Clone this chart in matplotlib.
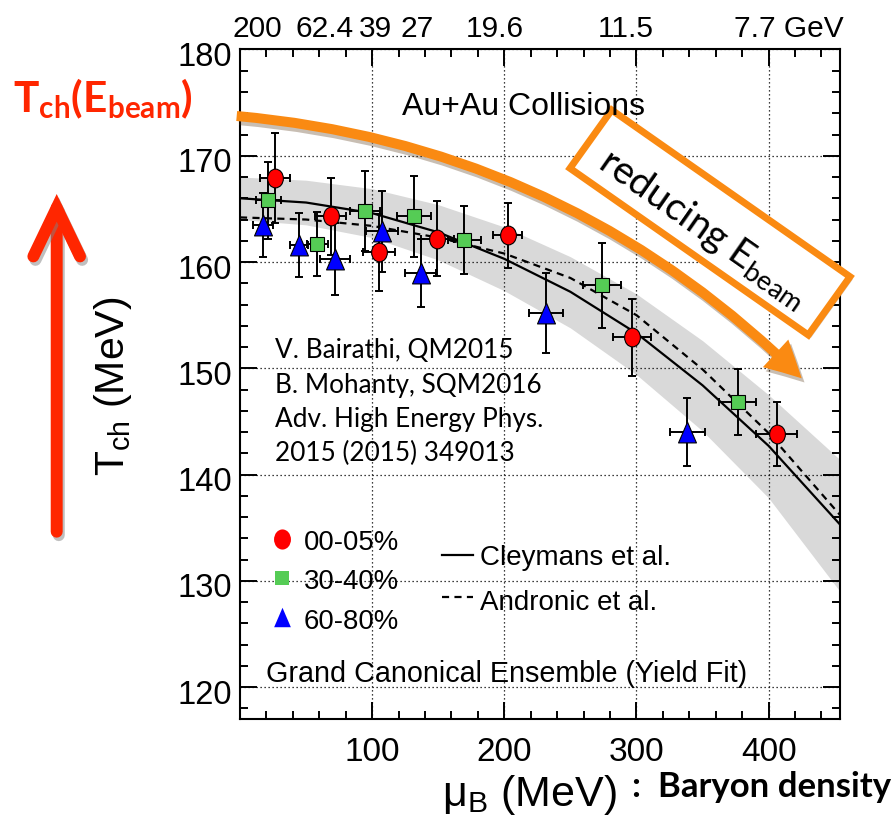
import numpy as np
import matplotlib
matplotlib.use('Agg')
import matplotlib.pyplot as plt
from matplotlib.patches import FancyArrowPatch, Polygon
from matplotlib.path import Path
from matplotlib.lines import Line2D
from matplotlib.ticker import MultipleLocator
from matplotlib.transforms import ScaledTranslation, blended_transform_factory
import matplotlib.patheffects as pe

plt.rcParams['font.family'] = 'Liberation Sans'

# ---- data ----
mu_0005 = [26.5, 68.6, 105.2, 149.3, 202.6, 296.8, 406.1]
T_0005 = [167.9, 164.3, 160.9, 162.2, 162.5, 152.9, 143.8]
dT_0005 = [4.2, 3.6, 3.6, 3.5, 3.1, 3.6, 3.0]
dmu_0005 = [11.6, 11.6, 12.0, 12.6, 11.0, 14.5, 15.4]

mu_3040 = [21.4, 58.5, 94.6, 131.9, 169.7, 273.7, 376.6]
T_3040 = [165.8, 161.7, 164.8, 164.3, 162.1, 157.8, 146.8]
dT_3040 = [3.6, 3.0, 3.8, 3.8, 3.2, 4.0, 3.1]
dmu_3040 = [9.5, 8.0, 11.0, 13.0, 12.6, 14.4, 14.1]

mu_6080 = [17.2, 44.6, 71.9, 107.7, 136.7, 231.3, 338.5]
T_6080 = [163.5, 161.6, 160.3, 162.9, 159.0, 155.2, 144.0]
dT_6080 = [3.0, 3.0, 3.4, 3.8, 3.2, 3.8, 3.2]
dmu_6080 = [7.6, 7.0, 11.0, 12.0, 11.7, 12.9, 13.1]

curve_mu = [0, 50, 100, 150, 200, 250, 300, 350, 400, 454]
cleymans_T = [166.0, 165.6, 164.6, 162.8, 160.3, 157.2, 153.3, 148.4, 142.7, 135.3]
andronic_T = [164.2, 164.0, 163.4, 162.3, 160.8, 158.5, 155.0, 149.9, 143.9, 136.2]
band_hi = [168.0, 167.7, 166.9, 165.4, 163.3, 160.5, 157.0, 152.6, 147.5, 141.4]
band_lo = [164.0, 163.5, 162.3, 160.2, 157.3, 153.8, 149.4, 144.1, 137.8, 129.0]

energy_labels = ['200', '62.4', '39', '27', '19.6', '11.5', '7.7 GeV']
energy_mu = [13.2, 64.1, 102.3, 134.2, 193.1, 291.8, 415.6]

W, H = 894, 830
def fx(x):
    return x / W
def fy(y):
    return 1 - y / H

ORANGE = '#FA8A12'
RED = '#FF2600'

fig = plt.figure(figsize=(W / 100, H / 100), dpi=100)
ax = fig.add_axes([fx(240), fy(719), 600 / W, 669.5 / H])
ax.set_xlim(0, 454)
ax.set_ylim(117, 180)

# grey band + model curves
ax.fill_between(curve_mu, band_lo, band_hi, color='#d9d9d9', lw=0, zorder=1)
ax.plot(curve_mu, cleymans_T, color='black', lw=1.6, zorder=2)
ax.plot(curve_mu, andronic_T, color='black', lw=1.6, ls=(0, (3.2, 2.4)), zorder=2)

# marker shapes (slightly taller than wide, as in the figure)
circ = Path.unit_circle()
ellipse = Path(circ.vertices * [0.84, 1.0], circ.codes)
tri = Path([(0, 1), (-0.86, -1), (0.86, -1), (0, 1)],
           [Path.MOVETO, Path.LINETO, Path.LINETO, Path.CLOSEPOLY])

sets = [
    (mu_0005, T_0005, dmu_0005, dT_0005, ellipse, 13.5, '#FF0000'),
    (mu_3040, T_3040, dmu_3040, dT_3040, 's', 9.5, '#55CC55'),
    (mu_6080, T_6080, dmu_6080, dT_6080, tri, 15, '#0000FF'),
]
for mu, T, dmu, dT, mk, ms, col in sets:
    ax.errorbar(mu, T, xerr=dmu, yerr=dT, fmt='none', ecolor='black',
                elinewidth=1.4, capsize=2.6, capthick=1.4, zorder=3)
    ax.plot(mu, T, ls='none', marker=mk, ms=ms, mfc=col, mec='black',
            mew=0.8, zorder=4)

# axes cosmetics (ROOT style)
ax.grid(True, which='major', color='black', ls=(0, (1, 2.2)), lw=0.9)
ax.set_axisbelow('line')
ax.set_xticks([100, 200, 300, 400])
ax.set_yticks([120, 130, 140, 150, 160, 170, 180])
ax.xaxis.set_minor_locator(MultipleLocator(20))
ax.yaxis.set_minor_locator(MultipleLocator(2))
ax.tick_params(which='both', direction='in', top=True, right=True, width=1.4)
ax.tick_params(which='major', length=12)
ax.tick_params(which='minor', length=5.8)
ax.tick_params(axis='y', labelsize=23.5, pad=6)
ax.tick_params(axis='x', labelsize=24, pad=13)
for lab in ax.get_yticklabels():
    lab.set_transform(lab.get_transform() + ScaledTranslation(0, -4.5 / 100, fig.dpi_scale_trans))
for s in ax.spines.values():
    s.set_linewidth(1.5)

# top energy labels
tb = blended_transform_factory(ax.transData, fig.transFigure)
for m, lab in zip(energy_mu, energy_labels):
    ax.text(m, fy(37), lab, transform=tb, ha='center', va='baseline',
            fontsize=21.5, clip_on=False)

# texts inside the frame
fig.text(fx(402), fy(115), 'Au+Au Collisions', fontsize=23, va='baseline')
fig.text(fx(266), fy(681.5), 'Grand Canonical Ensemble (Yield Fit)', fontsize=20.7,
         va='baseline')
refs = ['V. Bairathi, QM2015', 'B. Mohanty, SQM2016', 'Adv. High Energy Phys.', '2015 (2015) 349013']
for i, r in enumerate(refs):
    fig.text(fx(275), fy(358 + 34.5 * i), r, fontsize=18.8, fontfamily='Lato', va='baseline')

# legend
leg = [(ellipse, 14.5, '#FF0000', '00-05%', 539, 550),
       ('s', 10, '#55CC55', '30-40%', 578, 589),
       (tri, 14, '#0000FF', '60-80%', 617, 629)]
for mk, ms, col, lab, ym, yb in leg:
    fig.add_artist(Line2D([fx(282)], [fy(ym)], marker=mk, ms=ms, mfc=col, mew=0,
                          transform=fig.transFigure))
    fig.text(fx(304), fy(yb), lab, fontsize=19.8, va='baseline')
fig.add_artist(Line2D([fx(442), fx(473)], [fy(555), fy(555)], color='black', lw=1.6,
                      transform=fig.transFigure))
fig.add_artist(Line2D([fx(442), fx(473)], [fy(597), fy(597)], color='black', lw=1.6,
                      ls=(0, (3.2, 2.4)), transform=fig.transFigure))
fig.text(fx(480), fy(565), 'Cleymans et al.', fontsize=20, va='baseline')
fig.text(fx(480), fy(610), 'Andronic et al.', fontsize=20, va='baseline')

# axis titles
fig.text(fx(617), fy(806), r'$\mathregular{μ_B}$ (MeV)', fontsize=31,
         ha='right', va='baseline')
fig.text(fx(632), fy(797), ':  Baryon density', fontsize=25, fontfamily='Lato',
         fontweight='bold', va='baseline')
fig.text(fx(113), fy(386), r'$\mathregular{T_{ch}}$ (MeV)', fontsize=29.5, rotation=90,
         ha='center', va='center')

# red annotation on the left
fig.text(fx(103), fy(99), r'$\mathregular{T_{ch}(E_{beam})}$', fontsize=30.5, fontfamily='Lato',
         fontweight='bold', color=RED, ha='center', va='center')
red_arrow = FancyArrowPatch((fx(56.7), fy(531.7)), (fx(56.7), fy(194)),
                            transform=fig.transFigure,
                            arrowstyle='->,head_length=35,head_width=16.8',
                            color=RED, lw=8.6, capstyle='round', joinstyle='miter',
                            shrinkA=0, shrinkB=0)
red_arrow.set_path_effects([pe.SimpleLineShadow(offset=(1.5, -2.5), shadow_color='gray', alpha=0.5),
                            pe.Normal()])
fig.add_artist(red_arrow)

# orange box
box = Polygon([(fx(611.7), fy(110)), (fx(850), fy(276.7)), (fx(808.3), fy(335)),
               (fx(570), fy(168.3))], closed=True, transform=fig.transFigure,
              facecolor='white', edgecolor=ORANGE, lw=5, joinstyle='miter')
box.set_path_effects([pe.SimplePatchShadow(offset=(2, -2), alpha=0.25), pe.Normal()])
fig.add_artist(box)
fig.text(fx(703), fy(228), r'reducing $\mathregular{E_{beam}}$', fontsize=28,
         fontfamily='Lato', rotation=-35, rotation_mode='anchor', ha='center', va='center')

# orange curved arrow
arr = FancyArrowPatch((fx(236.7), fy(116)), (fx(801.7), fy(378.3)),
                      transform=fig.transFigure, connectionstyle='arc3,rad=-0.18',
                      arrowstyle='simple,head_length=26,head_width=27,tail_width=7.2',
                      color=ORANGE, lw=0, shrinkA=0, shrinkB=0)
arr.set_path_effects([pe.SimplePatchShadow(offset=(2, -3), alpha=0.3), pe.Normal()])
fig.add_artist(arr)

fig.savefig('out.png', dpi=100)
